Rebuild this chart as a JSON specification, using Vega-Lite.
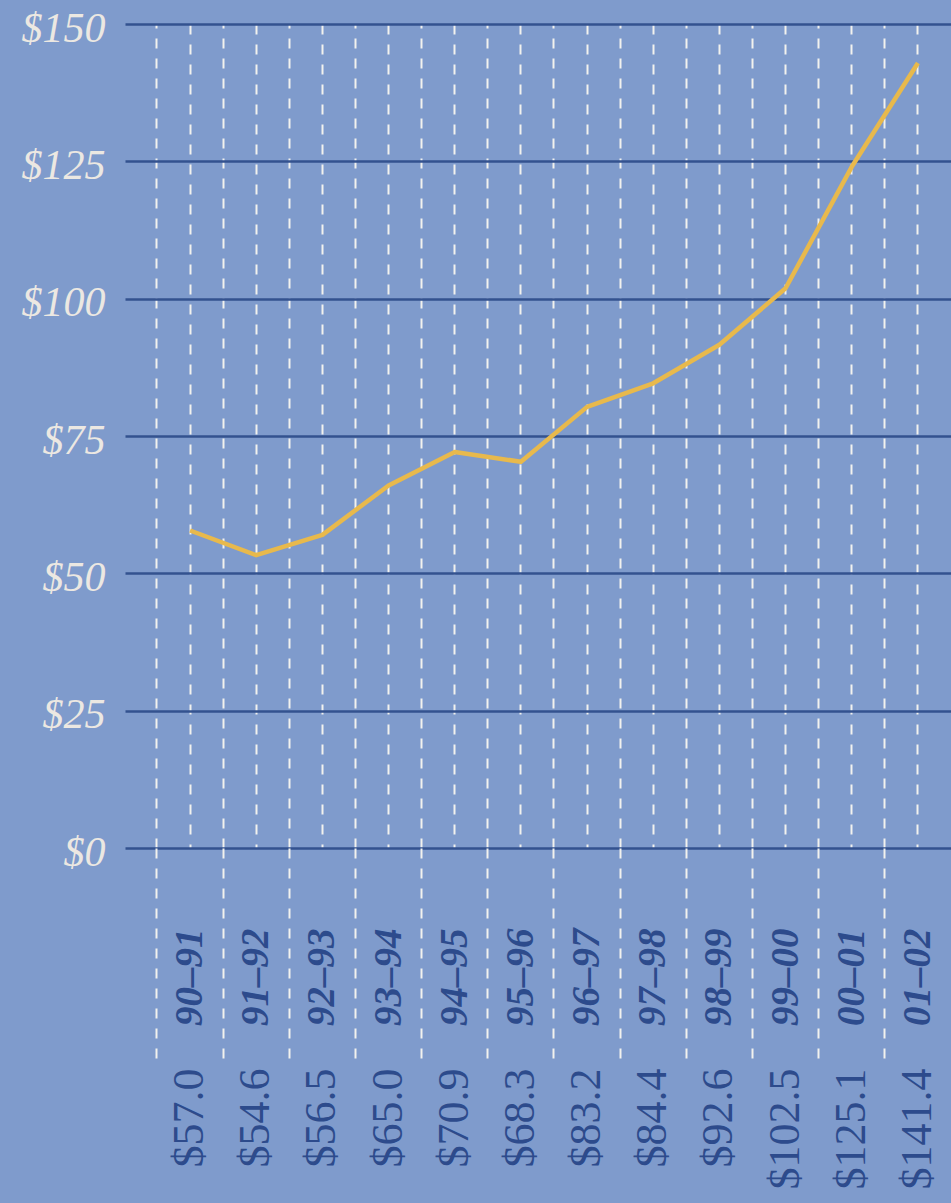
{
  "$schema": "https://vega.github.io/schema/vega-lite/v6.json",
  "width": 826,
  "height": 824,
  "autosize": {"type": "none"},
  "padding": {"left": 125, "top": 24, "right": 0, "bottom": 355},
  "background": "#7f9bcc",
  "config": {"view": {"stroke": null}},
  "data": {
    "values": [
      {"year": "90–91", "amount": 57.0, "trend": 57.8},
      {"year": "91–92", "amount": 54.6, "trend": 53.3},
      {"year": "92–93", "amount": 56.5, "trend": 57.0},
      {"year": "93–94", "amount": 65.0, "trend": 66.0},
      {"year": "94–95", "amount": 70.9, "trend": 72.1},
      {"year": "95–96", "amount": 68.3, "trend": 70.3},
      {"year": "96–97", "amount": 83.2, "trend": 80.3},
      {"year": "97–98", "amount": 84.4, "trend": 84.6},
      {"year": "98–99", "amount": 92.6, "trend": 91.6},
      {"year": "99–00", "amount": 102.5, "trend": 101.9},
      {"year": "00–01", "amount": 125.1, "trend": 124.0},
      {"year": "01–02", "amount": 141.4, "trend": 142.9}
    ]
  },
  "layer": [
    {
      "mark": {"type": "line", "color": "#e8b94c", "strokeWidth": 4.5, "strokeJoin": "round"},
      "encoding": {
        "x": {
          "field": "year", "type": "nominal", "sort": null,
          "scale": {"type": "band", "paddingInner": 0, "paddingOuter": 0.2418, "align": 1},
          "axis": {
            "orient": "bottom", "bandPosition": 0.5, "grid": true, "gridColor": "#f2f2ee", "gridWidth": 2, "gridDash": [10, 10],
            "ticks": false, "domain": false, "labelAngle": -90, "labelAlign": "right", "labelBaseline": "middle",
            "labelPadding": 80, "labelFont": "Liberation Serif", "labelFontSize": 39, "labelFontWeight": "bold",
            "labelFontStyle": "italic", "labelColor": "#2d4b8c", "labelOverlap": false, "labelBound": false, "title": null
          }
        },
        "y": {
          "field": "trend", "type": "quantitative",
          "scale": {"domain": [0, 150], "nice": false},
          "axis": {
            "values": [0, 25, 50, 75, 100, 125, 150], "format": "$.0f", "grid": true, "gridColor": "#33528f", "gridWidth": 2.5,
            "ticks": false, "domain": false, "labelPadding": 20, "labelFont": "Liberation Serif", "labelFontSize": 42,
            "labelFontStyle": "italic", "labelColor": "#ece8e2", "labelOffset": 4, "title": null
          }
        }
      }
    },
    {
      "mark": {"type": "point", "opacity": 0},
      "encoding": {
        "x": {
          "field": "year", "type": "nominal", "sort": null,
          "scale": {"type": "band", "paddingInner": 0, "paddingOuter": 0.2418, "align": 1},
          "axis": {
            "orient": "bottom", "bandPosition": 0, "grid": true, "gridColor": "#f2f2ee", "gridWidth": 2, "gridDash": [10, 10],
            "ticks": true, "tickSize": 217, "tickColor": "#f2f2ee", "tickWidth": 2, "tickDash": [10, 10],
            "labels": false, "domain": false, "title": null
          }
        }
      }
    },
    {
      "mark": {"type": "point", "opacity": 0},
      "encoding": {
        "x": {
          "field": "amount", "type": "ordinal", "sort": null,
          "scale": {"type": "band", "paddingInner": 0, "paddingOuter": 0.2418, "align": 1},
          "axis": {
            "orient": "bottom", "bandPosition": 0.5, "grid": false, "ticks": false, "domain": false,
            "labelExpr": "'$' + format(datum.value, '.1f')",
            "labelAngle": -90, "labelAlign": "right", "labelBaseline": "middle",
            "labelPadding": 220, "labelFont": "Liberation Serif", "labelFontSize": 44,
            "labelColor": "#2d4b8c", "labelOverlap": false, "labelBound": false, "title": null
          }
        }
      }
    }
  ],
  "resolve": {"scale": {"x": "independent"}, "axis": {"x": "independent"}}
}
